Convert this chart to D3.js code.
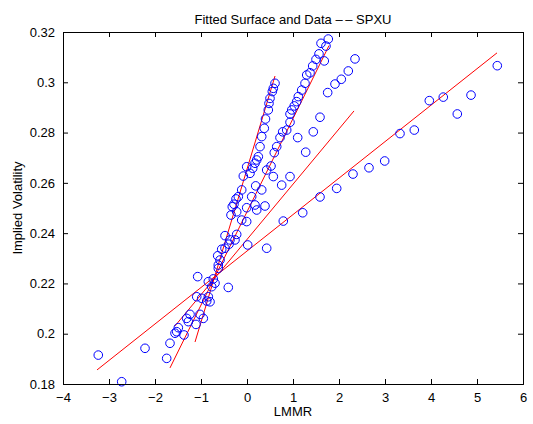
<!DOCTYPE html>
<html>
<head>
<meta charset="utf-8">
<script src="https://cdn.jsdelivr.net/npm/d3@7"></script>
<style>
  body { margin: 0; background: #fff; }
  text { font-family: "Liberation Sans", Arial, sans-serif; }
</style>
</head>
<body>
<div id="chart"></div>
<script>
// Observed data: log-moneyness (LMMR) vs implied volatility
const lmmr = [1.767, 1.609, 1.717, 1.565, 1.680, 1.500, 1.428, 1.370, 1.298, 1.261, 1.189, 1.115, 1.080, 1.028, 0.972,
  0.935, 0.935, 0.863, 0.776, 0.717, 0.646, 0.593, 0.522, 0.428, 0.572, 1.913, 1.754, 1.587, 2.348, 2.202, 2.050,
  1.441, 1.102, 1.276, 0.935, 0.754, 0.609, 0.572, 0.550, 0.500, 0.478, 0.463, 0.402, 0.376, 0.320, 0.283, 0.246,
  0.211, 0.174, -0.007, 0.124, 0.065, -0.080, -0.115, -0.189, -0.239, -0.283, 0.189, 0.320, 0.102, 0.174, 0.391,
  -0.007, -0.320, -0.224, -0.348, 0.211, -0.115, -0.007, 0.789, -0.478, -0.224, -0.370, -0.261, -0.391, -0.550,
  -0.478, 0.015, 0.428, -0.637, -0.587, -0.624, -0.624, -1.072, -0.733, -0.841, -0.696, -0.407, -0.767, -1.093,
  -0.985, -0.841, -0.804, -0.876, -1.239, -1.022, -1.311, -0.950, -1.276, -1.109, -1.493, -1.528, -1.565, -1.370,
  -1.674, -2.217, -1.746, -3.233, -2.724, 1.587, 1.950, 2.304, 2.652, 2.993, 3.326, 3.637, 3.963, 4.267, 4.572,
  4.870, 5.441, 1.211];
const impliedVol = [0.3172, 0.3155, 0.3144, 0.3113, 0.3085, 0.3091, 0.3065, 0.3038, 0.3029, 0.2996, 0.2969, 0.2943,
  0.2923, 0.2906, 0.2890, 0.2874, 0.2841, 0.2810, 0.2803, 0.2780, 0.2744, 0.2720, 0.2667, 0.2651, 0.2625, 0.2993,
  0.2959, 0.2861, 0.3093, 0.3045, 0.3012, 0.2803, 0.2780, 0.2722, 0.2625, 0.2591, 0.2996, 0.2976, 0.2963, 0.2936,
  0.2916, 0.2890, 0.2854, 0.2817, 0.2784, 0.2744, 0.2704, 0.2691, 0.2678, 0.2664, 0.2658, 0.2638, 0.2627, 0.2572,
  0.2545, 0.2536, 0.2515, 0.2588, 0.2572, 0.2545, 0.2512, 0.2508, 0.2501, 0.2505, 0.2485, 0.2472, 0.2492, 0.2452,
  0.2446, 0.2448, 0.2390, 0.2395, 0.2373, 0.2373, 0.2356, 0.2336, 0.2340, 0.2353, 0.2340, 0.2310, 0.2293, 0.2273,
  0.2260, 0.2227, 0.2218, 0.2207, 0.2201, 0.2184, 0.2187, 0.2147, 0.2141, 0.2147, 0.2127, 0.2130, 0.2077, 0.2077,
  0.2061, 0.2061, 0.2048, 0.2037, 0.2024, 0.2008, 0.2002, 0.1995, 0.1962, 0.1942, 0.1902, 0.1915, 0.1809, 0.2544,
  0.2578, 0.2635, 0.2660, 0.2687, 0.2796, 0.2810, 0.2927, 0.2941, 0.2874, 0.2949, 0.3066, 0.2481];

// Fitted surface slices (one straight line per maturity): start/end points
const fitX1 = [-3.26, -1.565, -1.674, -1.13];
const fitY1 = [0.1856, 0.2031, 0.1864, 0.1967];
const fitX2 = [5.435, 2.326, 1.783, 0.609];
const fitY2 = [0.3117, 0.2886, 0.3146, 0.3025];

const xTicks = [-4, -3, -2, -1, 0, 1, 2, 3, 4, 5, 6];
const yTicks = [0.18, 0.2, 0.22, 0.24, 0.26, 0.28, 0.3, 0.32];

const W = 533, H = 424;
const margin = {top: 32, right: 10, bottom: 40, left: 63};
const width = W - margin.left - margin.right,
      height = H - margin.top - margin.bottom;

const svg = d3.select("#chart")
  .append("svg")
    .attr("width", W)
    .attr("height", H);

const g = svg.append("g")
  .attr("transform", `translate(${margin.left},${margin.top})`);

const x = d3.scaleLinear().domain([-4, 6]).range([0, width]);
const y = d3.scaleLinear().domain([0.18, 0.32]).range([height, 0]);

g.append("clipPath").attr("id", "plot-clip")
  .append("rect").attr("width", width).attr("height", height);

// Fitted lines
const plot = g.append("g").attr("clip-path", "url(#plot-clip)");
plot.selectAll(".fit")
  .data(fitX1.map((d, i) => i))
  .join("line")
    .attr("class", "fit")
    .attr("x1", i => x(fitX1[i]))
    .attr("y1", i => y(fitY1[i]))
    .attr("x2", i => x(fitX2[i]))
    .attr("y2", i => y(fitY2[i]))
    .attr("stroke", "#ff0000")
    .attr("stroke-width", 1);

// Data points
g.selectAll(".pt")
  .data(lmmr.map((d, i) => [d, impliedVol[i]]))
  .join("circle")
    .attr("class", "pt")
    .attr("cx", d => x(d[0]))
    .attr("cy", d => y(d[1]))
    .attr("r", 4.3)
    .attr("fill", "none")
    .attr("stroke", "#0000ff")
    .attr("stroke-width", 1);

// Axes (MATLAB style: inward ticks, box)
const fmtY = d => String(+d.toFixed(2));
const fmtX = d => d < 0 ? "\u2212" + Math.abs(d) : String(d);

const xAxis = g.append("g")
  .attr("transform", `translate(0,${height})`)
  .call(d3.axisBottom(x).tickValues(xTicks).tickSize(-5).tickPadding(9).tickFormat(fmtX));
const yAxis = g.append("g")
  .call(d3.axisLeft(y).tickValues(yTicks).tickSize(-5).tickPadding(8).tickFormat(fmtY));
const xTop = g.append("g")
  .call(d3.axisTop(x).tickValues(xTicks).tickSize(-5).tickFormat(""));
const yRight = g.append("g")
  .attr("transform", `translate(${width},0)`)
  .call(d3.axisRight(y).tickValues(yTicks).tickSize(-5).tickFormat(""));

[xAxis, yAxis, xTop, yRight].forEach(a => {
  a.select(".domain").attr("stroke", "#000").attr("stroke-width", 1);
  a.selectAll(".tick line").attr("stroke", "#000");
  a.selectAll("text").style("font-size", "13px").attr("fill", "#000")
    .style("font-family", "'Liberation Sans', Arial, sans-serif");
});

// Title
svg.append("text")
  .attr("x", margin.left + width / 2)
  .attr("y", 24)
  .attr("text-anchor", "middle")
  .style("font-size", "13px")
  .text("Fitted Surface and Data \u2013\u2009\u2013 SPXU");

// X axis label
svg.append("text")
  .attr("x", margin.left + width / 2)
  .attr("y", 416)
  .attr("text-anchor", "middle")
  .style("font-size", "13px")
  .text("LMMR");

// Y axis label
svg.append("text")
  .attr("transform", "rotate(-90)")
  .attr("x", -(margin.top + height / 2))
  .attr("y", 22)
  .attr("text-anchor", "middle")
  .style("font-size", "13px")
  .text("Implied Volatility");
</script>
</body>
</html>
